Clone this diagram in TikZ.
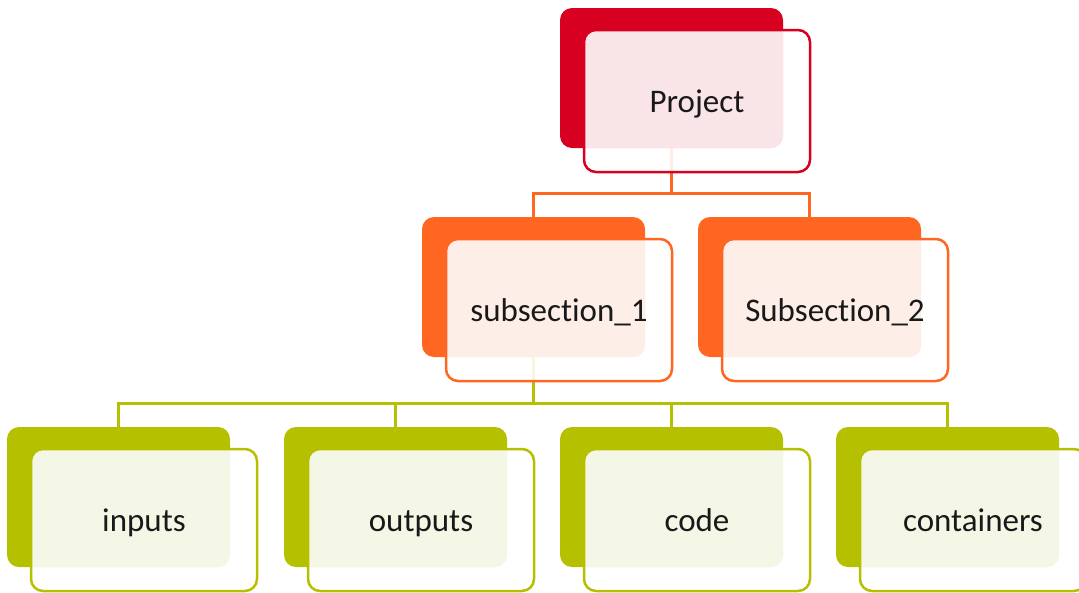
\documentclass[tikz,border=0pt]{standalone}
\usepackage{fontspec}
\setmainfont{Carlito}[RawFeature={-liga}]
\definecolor{cred}{RGB}{216,0,32}
\definecolor{pred}{RGB}{249,228,232}
\definecolor{corange}{RGB}{255,102,33}
\definecolor{porange}{RGB}{254,238,232}
\definecolor{colive}{RGB}{181,192,0}
\definecolor{polive}{RGB}{245,247,230}
\definecolor{ctext}{RGB}{25,25,25}
\tikzset{
  backbox/.style={rectangle, rounded corners=12pt, minimum width=223pt, minimum height=140pt,
    inner sep=0pt, outer sep=0pt, anchor=north west, draw=none},
  frontbox/.style={rectangle, rounded corners=12pt, minimum width=226pt, minimum height=142pt,
    inner sep=0pt, outer sep=0pt, anchor=north west, fill=white, fill opacity=0.88, draw=none},
  frontline/.style={line width=2.5pt, rounded corners=12pt},
  conn/.style={line width=3pt},
  lbl/.style={font=\fontsize{33}{36}\selectfont, text=ctext, inner sep=0pt, anchor=base},
}
\newcommand\backbx[4]{% name, x, y, colour
  \node[backbox, fill=#4] (b#1) at (#2,#3) {};}
\newcommand\frontbx[6]{% name, x, y, colour, pale, text
  \node[frontbox] (f#1) at ({#2+24},{#3+22}) {};
  \begin{scope}
    \clip[rounded corners=12pt] (b#1.north west) rectangle (b#1.south east);
    \fill[#5, rounded corners=12pt] (f#1.north west) rectangle (f#1.south east);
  \end{scope}
  \draw[frontline, #4] (f#1.north west) rectangle (f#1.south east);
  \node[lbl] (t#1) at ([yshift=-11pt]f#1.center) {#6};}
\begin{document}
\begin{tikzpicture}[x=1pt, y=-1pt]
\useasboundingbox (0,0) rectangle (1079,592);
\clip (0,0) rectangle (1079,592);
% back boxes
\backbx{P}{560}{8}{cred}
\backbx{S1}{422}{217}{corange}
\backbx{S2}{698}{217}{corange}
\backbx{A}{7}{427}{colive}
\backbx{B}{284}{427}{colive}
\backbx{C}{560}{427}{colive}
\backbx{D}{836}{427}{colive}
% connectors
\coordinate (hP) at (0,193);
\coordinate (hS) at (0,403);
\draw[conn, corange] (bP.south) -- (bP.south |- hP);
\draw[conn, corange] (bS1.north) |- (hP -| bS2.north) -- (bS2.north);
\draw[conn, colive] (bS1.south) -- (bS1.south |- hS);
\draw[conn, colive] (bA.north) |- (hS -| bD.north) -- (bD.north);
\draw[conn, colive] (bB.north) -- (bB.north |- hS);
\draw[conn, colive] (bC.north) -- (bC.north |- hS);
% front boxes
\frontbx{P}{560}{8}{cred}{pred}{Project}
\frontbx{S1}{422}{217}{corange}{porange}{subsection\_1}
\frontbx{S2}{698}{217}{corange}{porange}{Subsection\_2}
\frontbx{A}{7}{427}{colive}{polive}{inputs}
\frontbx{B}{284}{427}{colive}{polive}{outputs}
\frontbx{C}{560}{427}{colive}{polive}{code}
\frontbx{D}{836}{427}{colive}{polive}{containers}
\end{tikzpicture}
\end{document}
